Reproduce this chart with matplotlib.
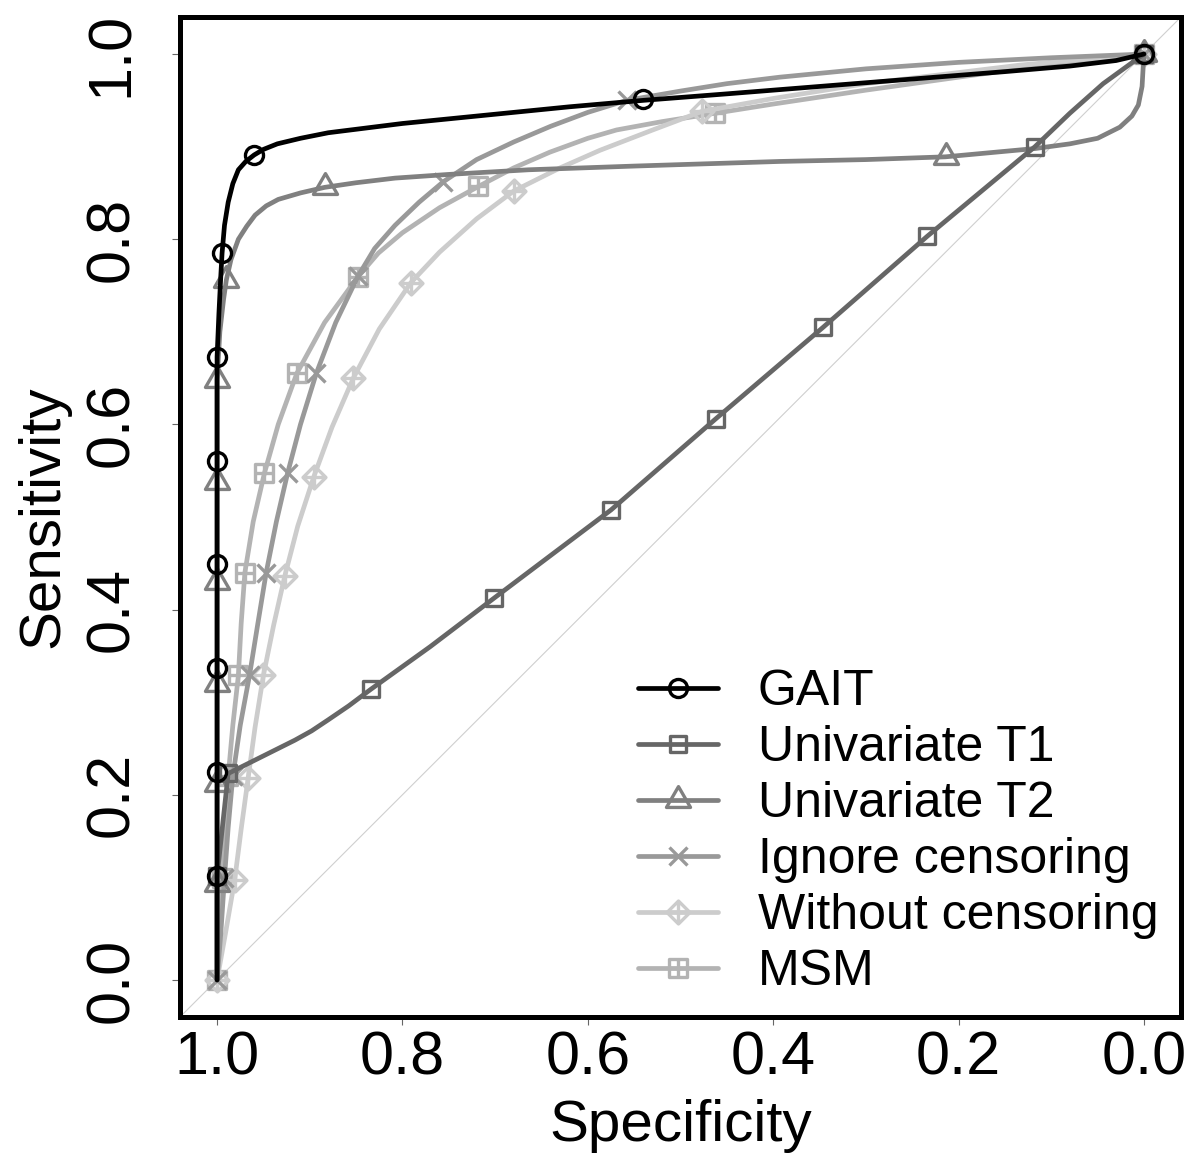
import numpy as np
import matplotlib
matplotlib.use("Agg")
import matplotlib.pyplot as plt
from matplotlib.path import Path
from matplotlib.lines import Line2D

plt.rcParams['font.family'] = ['Liberation Sans', 'DejaVu Sans']

# ---------------- data (specificity, sensitivity) ----------------
series_names = ["GAIT", "Univariate T1", "Univariate T2", "Ignore censoring",
                "Without censoring", "MSM"]

# GAIT
gait_curve_spec = [1.0, 1.0, 1.0, 1.0, 1.0, 1.0, 1.0, 0.998, 0.996, 0.9946, 0.992, 0.988, 0.983,
                   0.977, 0.969, 0.96, 0.95, 0.935, 0.91, 0.88, 0.84, 0.80, 0.75, 0.70, 0.62,
                   0.54, 0.45, 0.35, 0.25, 0.15, 0.08, 0.03, 0.0]
gait_curve_sens = [0.0, 0.112, 0.225, 0.337, 0.449, 0.561, 0.673, 0.72, 0.76, 0.785, 0.815, 0.84,
                   0.86, 0.875, 0.884, 0.891, 0.897, 0.903, 0.909, 0.915, 0.920, 0.925, 0.930,
                   0.935, 0.943, 0.950, 0.957, 0.965, 0.973, 0.981, 0.987, 0.993, 1.0]
gait_mark_spec = [1.0, 1.0, 1.0, 1.0, 1.0, 1.0, 0.9946, 0.96, 0.54, 0.0]
gait_mark_sens = [0.112, 0.225, 0.337, 0.449, 0.561, 0.673, 0.785, 0.891, 0.951, 1.0]

# Univariate T1
t1_curve_spec = [1.0, 1.0, 0.988, 0.97, 0.952, 0.934, 0.916, 0.898, 0.880, 0.858, 0.834, 0.77,
                 0.701, 0.575, 0.462, 0.346, 0.234, 0.1175, 0.08, 0.044, 0.0]
t1_curve_sens = [0.0, 0.112, 0.223, 0.232, 0.241, 0.25, 0.259, 0.269, 0.281, 0.296, 0.314, 0.36,
                 0.4125, 0.5076, 0.606, 0.705, 0.803, 0.90, 0.936, 0.968, 1.0]
t1_mark_spec = [1.0, 0.988, 0.834, 0.701, 0.575, 0.462, 0.346, 0.234, 0.1175, 0.0]
t1_mark_sens = [0.112, 0.223, 0.314, 0.4125, 0.5076, 0.606, 0.705, 0.803, 0.90, 1.0]

# Univariate T2
t2_curve_spec = [1.0, 1.0, 1.0, 1.0, 1.0, 1.0, 1.0, 0.997, 0.993, 0.990, 0.985, 0.977, 0.968,
                 0.959, 0.947, 0.934, 0.91, 0.884, 0.85, 0.808, 0.75, 0.664, 0.55, 0.393, 0.30,
                 0.214, 0.117, 0.08, 0.05, 0.026, 0.013, 0.006, 0.002, 0.0]
t2_curve_sens = [0.0, 0.104, 0.212, 0.320, 0.430, 0.538, 0.648, 0.70, 0.735, 0.756, 0.778, 0.800,
                 0.814, 0.826, 0.836, 0.843, 0.850, 0.856, 0.861, 0.866, 0.870, 0.875, 0.879,
                 0.884, 0.886, 0.889, 0.898, 0.903, 0.909, 0.921, 0.933, 0.945, 0.965, 1.0]
t2_mark_spec = [1.0, 1.0, 1.0, 1.0, 1.0, 1.0, 0.990, 0.884, 0.214, 0.0]
t2_mark_sens = [0.104, 0.212, 0.320, 0.430, 0.538, 0.648, 0.756, 0.856, 0.889, 1.0]

# Ignore censoring
ig_curve_spec = [1.0, 0.996, 0.992, 0.988, 0.983, 0.975, 0.965, 0.956, 0.947, 0.936, 0.924, 0.91,
                 0.893, 0.872, 0.848, 0.83, 0.808, 0.782, 0.756, 0.72, 0.68, 0.64, 0.60, 0.558,
                 0.50, 0.45, 0.393, 0.30, 0.20, 0.10, 0.0]
ig_curve_sens = [0.0, 0.05, 0.11, 0.165, 0.22, 0.275, 0.329, 0.385, 0.44, 0.495, 0.547, 0.60,
                 0.655, 0.71, 0.76, 0.79, 0.815, 0.84, 0.862, 0.886, 0.905, 0.922, 0.937, 0.950,
                 0.960, 0.968, 0.975, 0.984, 0.991, 0.996, 1.0]
ig_mark_spec = [1.0, 0.992, 0.983, 0.965, 0.947, 0.924, 0.893, 0.848, 0.756, 0.558, 0.0]
ig_mark_sens = [0.0, 0.11, 0.22, 0.329, 0.44, 0.547, 0.655, 0.76, 0.862, 0.950, 1.0]

# Without censoring
wo_curve_spec = [1.0, 0.991, 0.981, 0.974, 0.9665, 0.959, 0.950, 0.939, 0.927, 0.913, 0.8956,
                 0.876, 0.853, 0.825, 0.791, 0.76, 0.72, 0.680, 0.63, 0.587, 0.53, 0.477, 0.40,
                 0.30, 0.20, 0.134, 0.06, 0.0]
wo_curve_sens = [0.0, 0.05, 0.108, 0.163, 0.218, 0.273, 0.329, 0.383, 0.436, 0.49, 0.5435,
                 0.597, 0.650, 0.703, 0.753, 0.786, 0.822, 0.852, 0.877, 0.896, 0.918, 0.938,
                 0.952, 0.968, 0.980, 0.988, 0.995, 1.0]
wo_mark_spec = [1.0, 0.981, 0.9665, 0.950, 0.927, 0.8956, 0.853, 0.791, 0.680, 0.477, 0.0]
wo_mark_sens = [0.0, 0.108, 0.218, 0.329, 0.436, 0.5435, 0.650, 0.753, 0.852, 0.938, 1.0]

# MSM
msm_curve_spec = [1.0, 0.998, 0.995, 0.992, 0.988, 0.983, 0.977, 0.974, 0.970, 0.961, 0.949,
                  0.934, 0.914, 0.884, 0.848, 0.826, 0.80, 0.76, 0.718, 0.68, 0.641, 0.60,
                  0.569, 0.52, 0.463, 0.40, 0.30, 0.20, 0.134, 0.06, 0.0]
msm_curve_sens = [0.0, 0.05, 0.11, 0.165, 0.22, 0.275, 0.329, 0.385, 0.44, 0.495, 0.547, 0.60,
                  0.655, 0.71, 0.7595, 0.785, 0.807, 0.834, 0.857, 0.877, 0.894, 0.909, 0.918,
                  0.927, 0.936, 0.946, 0.961, 0.975, 0.984, 0.993, 1.0]
msm_mark_spec = [1.0, 0.995, 0.988, 0.977, 0.970, 0.949, 0.914, 0.848, 0.718, 0.463, 0.0]
msm_mark_sens = [0.0, 0.11, 0.22, 0.329, 0.44, 0.547, 0.655, 0.7595, 0.857, 0.936, 1.0]

x_ticks = [1.0, 0.8, 0.6, 0.4, 0.2, 0.0]
y_ticks = [0.0, 0.2, 0.4, 0.6, 0.8, 1.0]

# ---------------- markers (R-like pch shapes) ----------------
M, L, C = Path.MOVETO, Path.LINETO, Path.CLOSEPOLY
tri_r = Path([(0, 1.555), (-1.347, -0.778), (1.347, -0.778), (0, 1.555)], [M, L, L, C])
sq_plus = Path([(-1, -1), (1, -1), (1, 1), (-1, 1), (-1, -1),
                (-1, 0), (1, 0), (0, -1), (0, 1)],
               [M, L, L, L, C, M, L, M, L])
dm_plus = Path([(0, -1), (1, 0), (0, 1), (-1, 0), (0, -1),
                (-1, 0), (1, 0), (0, -1), (0, 1)],
               [M, L, L, L, C, M, L, M, L])
sq = Path([(-1, -1), (1, -1), (1, 1), (-1, 1), (-1, -1)], [M, L, L, L, C])

LW = 3.4
MEW = 2.4
styles = [
    ("GAIT", gait_curve_spec, gait_curve_sens, gait_mark_spec, gait_mark_sens, "#000000", "o", 13.0),
    ("Univariate T1", t1_curve_spec, t1_curve_sens, t1_mark_spec, t1_mark_sens, "#666666", sq, 12.0),
    ("Univariate T2", t2_curve_spec, t2_curve_sens, t2_mark_spec, t2_mark_sens, "#808080", tri_r, 20.0),
    ("Ignore censoring", ig_curve_spec, ig_curve_sens, ig_mark_spec, ig_mark_sens, "#999999", "x", 13.5),
    ("Without censoring", wo_curve_spec, wo_curve_sens, wo_mark_spec, wo_mark_sens, "#cccccc", dm_plus, 16.5),
    ("MSM", msm_curve_spec, msm_curve_sens, msm_mark_spec, msm_mark_sens, "#b3b3b3", sq_plus, 12.5),
]

fig = plt.figure(figsize=(11.98, 11.65), dpi=100)
ax = fig.add_axes([180 / 1198, 1 - 1017 / 1165, 1001 / 1198, 1000 / 1165])

ax.axline((1, 0), (0, 1), color="#cfcfcf", lw=0.8, zorder=1)

for i, (name, cx, cy, mx, my, col, mk, ms) in enumerate(reversed(styles)):
    z = 2 + i
    ax.plot(cx, cy, color=col, lw=LW, solid_capstyle="round", solid_joinstyle="round", zorder=z)
    ax.plot(mx, my, ls="none", marker=mk, ms=ms, mfc="none", mec=col, mew=MEW, zorder=z)

handles = []
for name, cx, cy, mx, my, col, mk, ms in styles:
    handles.append(Line2D([], [], color=col, lw=LW, marker=mk, ms=ms, mfc="none", mec=col,
                          mew=MEW, solid_capstyle="round"))

ax.set_xlim(1.04, -0.04)
ax.set_ylim(-0.04, 1.04)
ax.set_xticks(x_ticks)
ax.set_xticklabels([f"{v:.1f}" for v in x_ticks])
ax.set_yticks(y_ticks)
ax.set_yticklabels([f"{v:.1f}" for v in y_ticks], rotation=90, va="center")
ax.tick_params(axis="both", length=6, width=0.8, color="#666666", labelsize=44)
ax.tick_params(axis="x", pad=4)
ax.tick_params(axis="y", pad=22)
for sp in ax.spines.values():
    sp.set_linewidth(3.6)
    sp.set_color("black")

ax.set_xlabel("Specificity", fontsize=42, labelpad=8)
ax.set_ylabel("Sensitivity", fontsize=42, labelpad=10)

ax.legend(handles, series_names, loc="upper left", bbox_to_anchor=(0.4575, 0.348),
          frameon=False, fontsize=36, handlelength=1.6, handletextpad=0.8,
          labelspacing=0.2, borderpad=0, borderaxespad=0)

fig.savefig("out.png", dpi=100)
